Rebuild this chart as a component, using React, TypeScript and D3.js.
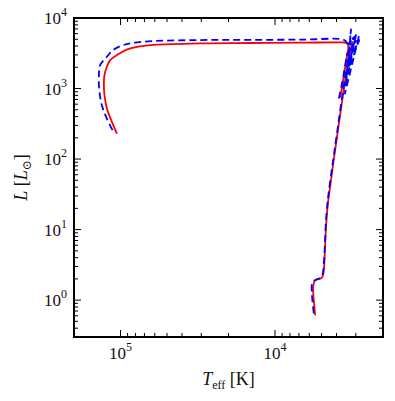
import React from 'react';
import * as d3 from 'd3';

const width = 395;
const height = 401;
const margin = { top: 18, right: 12, bottom: 64, left: 74 };
const red = '#ff0000';
const blue = '#0000ff';
const font = '"Liberation Serif", "DejaVu Serif", serif';

// [Teff (K), L (Lsun)]
const redMain: [number, number][] = [
  [5500, 0.61], [5580, 0.87], [5650, 1.21], [5650, 1.63], [5520, 1.89], [5280, 1.98],
  [5000, 2.05], [4870, 2.33], [4800, 3.24], [4735, 6.2], [4665, 12], [4550, 23],
  [4415, 38], [4160, 101], [3860, 318], [3580, 1000], [3370, 2270], [3140, 4670]
];
const redLate: [number, number][] = [
  [3800, 745], [3715, 937], [3630, 1258], [3525, 1923], [3420, 2945], [3350, 3830],
  [3375, 4225], [3475, 4440], [3745, 4510], [6800, 4470], [14400, 4420], [30300, 4370],
  [64100, 4130], [86500, 3700], [105500, 2980], [116600, 2530], [122500, 2035],
  [127000, 1547], [128200, 1178], [127000, 803], [122500, 520], [113700, 336], [105500, 229]
];
const blueMain: [number, number][] = [
  [5610, 0.65], [5720, 0.96], [5780, 1.34], [5750, 1.74], [5520, 1.92], [5200, 2.01],
  [5010, 2.12], [4900, 2.42], [4830, 3.35], [4750, 6.2], [4690, 12], [4580, 23],
  [4460, 38], [4190, 101], [3890, 318], [3610, 1000], [3400, 2270], [3220, 4820]
];
// early AGB with thermal pulses
const bluePulses: [number, number][] = [
  [3860, 721], [3740, 1000], [3630, 1388], [3525, 2055], [3420, 3050], [2870, 5430],
  [3525, 849], [3220, 6900], [3475, 1178], [2990, 5730], [3420, 1634], [2850, 4865],
  [3375, 2270], [3070, 5430], [3375, 4225]
];
const bluePost: [number, number][] = [
  [3375, 4225], [3475, 4670], [3650, 4980], [6800, 4930], [14400, 4900], [30300, 4870],
  [71300, 4610], [96000, 4130], [111500, 3510], [122500, 2825], [135500, 2145],
  [138000, 1547], [137500, 1000], [132000, 578], [122500, 374], [111000, 242]
];

const xDomain = [2e5, 2e3];
const yDomain = [0.3, 1e4];
const xMajor = [1e5, 1e4];
const yMajor = [1, 10, 100, 1000, 10000];

const x = d3.scaleLog().domain(xDomain).range([margin.left, width - margin.right]);
const y = d3.scaleLog().domain(yDomain).range([height - margin.bottom, margin.top]);
const smooth = d3.line<[number, number]>()
  .x(d => x(d[0])).y(d => y(d[1]))
  .curve(d3.curveCatmullRom.alpha(0.5));
const straight = d3.line<[number, number]>().x(d => x(d[0])).y(d => y(d[1]));

const sup = (n: number) => Math.round(Math.log10(n)).toString();

export default function App() {
  const x0 = margin.left, x1 = width - margin.right;
  const y0 = height - margin.bottom, y1 = margin.top;
  const xt = x.ticks().filter(t => t <= xDomain[0] && t >= xDomain[1]);
  const yt = y.ticks().filter(t => t >= yDomain[0] && t <= yDomain[1]);
  const isMajor = (t: number) => Math.abs(Math.log10(t) - Math.round(Math.log10(t))) < 1e-6;

  return (
    <svg width={width} height={height} style={{ position: 'absolute', left: 0, top: 0 }}>
      <defs>
        <clipPath id="plot">
          <rect x={x0} y={y1} width={x1 - x0} height={y0 - y1} />
        </clipPath>
      </defs>
      <rect width={width} height={height} fill="#fff" />
      <g clipPath="url(#plot)" fill="none" strokeWidth={1.8} strokeLinejoin="round">
        <path d={smooth(redMain) || ''} stroke={red} />
        <path d={smooth(redLate) || ''} stroke={red} />
        <path d={smooth(blueMain) || ''} stroke={blue} strokeDasharray="7,4" />
        <path d={straight(bluePulses) || ''} stroke={blue} strokeDasharray="7,4" />
        <path d={smooth(bluePost) || ''} stroke={blue} strokeDasharray="7,4" />
      </g>
      <g stroke="#000" strokeWidth={1}>
        {xt.map(t => {
          const len = isMajor(t) ? 7 : 4;
          return (
            <g key={'x' + t}>
              <line x1={x(t)} x2={x(t)} y1={y0} y2={y0 - len} />
              <line x1={x(t)} x2={x(t)} y1={y1} y2={y1 + len} />
            </g>
          );
        })}
        {yt.map(t => {
          const len = isMajor(t) ? 7 : 4;
          return (
            <g key={'y' + t}>
              <line x1={x0} x2={x0 + len} y1={y(t)} y2={y(t)} />
              <line x1={x1} x2={x1 - len} y1={y(t)} y2={y(t)} />
            </g>
          );
        })}
      </g>
      <rect x={x0} y={y1} width={x1 - x0} height={y0 - y1} fill="none" stroke="#000" strokeWidth={2} />
      <g fontFamily={font} fill="#111">
        {xMajor.map(t => (
          <text key={'xl' + t} x={x(t)} y={y0 + 22} fontSize={17} textAnchor="middle">
            10<tspan fontSize={12} dy={-8}>{sup(t)}</tspan>
          </text>
        ))}
        {yMajor.map(t => (
          <text key={'yl' + t} x={x0 - 7} y={y(t) + 6} fontSize={17} textAnchor="end">
            10<tspan fontSize={12} dy={-8}>{sup(t)}</tspan>
          </text>
        ))}
        <text x={(x0 + x1) / 2} y={y0 + 48} fontSize={18} textAnchor="middle">
          <tspan fontStyle="italic">T</tspan>
          <tspan fontSize={12} dy={4}>eff</tspan>
          <tspan dy={-4}> [K]</tspan>
        </text>
        <text transform={`translate(${27},${(y0 + y1) / 2}) rotate(-90)`} fontSize={18} textAnchor="middle">
          <tspan fontStyle="italic">L</tspan> [<tspan fontStyle="italic">L</tspan>
          <tspan fontSize={12} dy={4}>⊙</tspan>
          <tspan dy={-4}>]</tspan>
        </text>
      </g>
    </svg>
  );
}
